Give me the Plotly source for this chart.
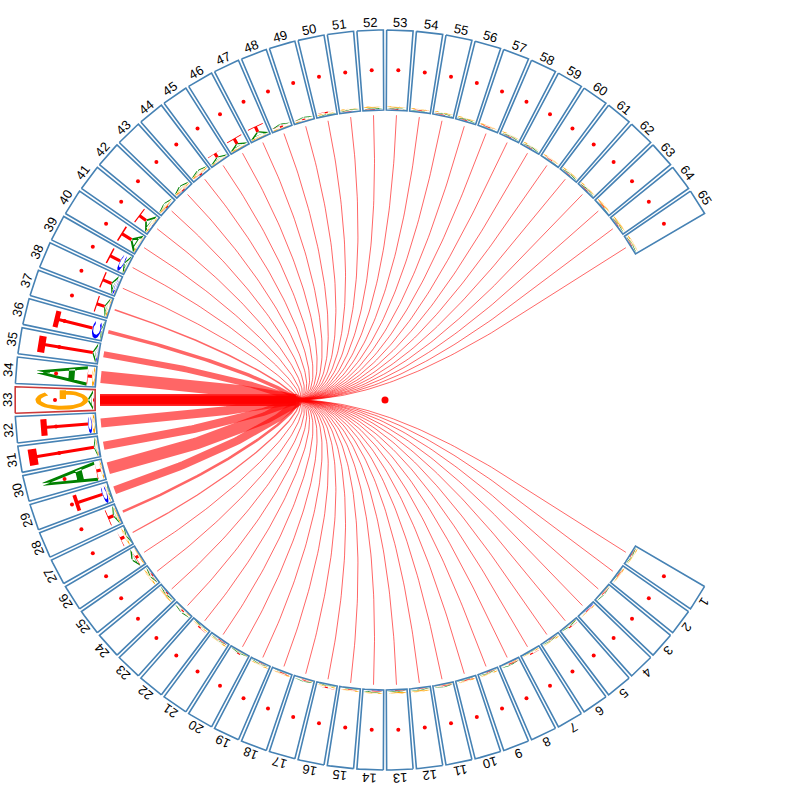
import numpy as np
import plotly.graph_objects as go

# ---------------- data ----------------
positions = list(range(1, 66))
position_labels = [str(p) for p in positions]
focus_position = 33

# information content (bits) of each nucleotide per position
A_bits = [0.03, 0.02, 0.03, 0.02, 0.03, 0.03, 0.02, 0.03, 0.03, 0.02,
          0.03, 0.03, 0.03, 0.03, 0.02, 0.03, 0.03, 0.02, 0.03, 0.03,
          0.03, 0.03, 0.04, 0.04, 0.05, 0.10, 0.05, 0.07, 0.04, 1.37,
          0.06, 0.02, 0.12, 1.25, 0.10, 0.04, 0.08, 0.10, 0.08, 0.20,
          0.15, 0.06, 0.07, 0.06, 0.08, 0.10, 0.12, 0.05, 0.04, 0.03,
          0.03, 0.03, 0.03, 0.02, 0.03, 0.03, 0.02, 0.03, 0.03, 0.02,
          0.03, 0.03, 0.02, 0.03, 0.03]
C_bits = [0.01, 0.01, 0.01, 0.02, 0.01, 0.01, 0.01, 0.02, 0.01, 0.01,
          0.01, 0.01, 0.01, 0.02, 0.01, 0.01, 0.01, 0.01, 0.01, 0.01,
          0.02, 0.01, 0.01, 0.01, 0.01, 0.01, 0.01, 0.02, 0.12, 0.02,
          0.03, 0.10, 0.02, 0.02, 0.03, 0.22, 0.01, 0.05, 0.12, 0.02,
          0.02, 0.01, 0.01, 0.01, 0.01, 0.01, 0.01, 0.01, 0.01, 0.01,
          0.01, 0.01, 0.01, 0.01, 0.01, 0.01, 0.01, 0.01, 0.01, 0.01,
          0.01, 0.01, 0.01, 0.01, 0.01]
G_bits = [0.03, 0.03, 0.02, 0.03, 0.02, 0.03, 0.03, 0.02, 0.03, 0.03,
          0.02, 0.04, 0.04, 0.03, 0.03, 0.03, 0.02, 0.03, 0.03, 0.02,
          0.03, 0.03, 0.03, 0.04, 0.05, 0.04, 0.05, 0.04, 0.04, 0.05,
          0.03, 0.08, 1.32, 0.08, 0.02, 0.02, 0.05, 0.03, 0.03, 0.03,
          0.05, 0.04, 0.05, 0.05, 0.04, 0.04, 0.04, 0.03, 0.03, 0.03,
          0.03, 0.04, 0.04, 0.03, 0.03, 0.03, 0.03, 0.03, 0.03, 0.03,
          0.03, 0.03, 0.04, 0.04, 0.04]
T_bits = [0.02, 0.02, 0.02, 0.02, 0.03, 0.02, 0.03, 0.02, 0.02, 0.02,
          0.02, 0.02, 0.02, 0.02, 0.02, 0.03, 0.02, 0.02, 0.02, 0.03,
          0.02, 0.03, 0.03, 0.03, 0.03, 0.08, 0.12, 0.15, 0.72, 0.12,
          1.65, 1.18, 0.03, 0.12, 1.38, 0.98, 0.22, 0.25, 0.30, 0.30,
          0.22, 0.03, 0.03, 0.04, 0.12, 0.15, 0.15, 0.04, 0.03, 0.03,
          0.02, 0.02, 0.02, 0.02, 0.02, 0.02, 0.02, 0.02, 0.02, 0.02,
          0.02, 0.02, 0.02, 0.02, 0.02]

# strength of the link between each position and the focus position (line width, px)
link_widths = [1, 1, 1, 1, 1, 1, 1, 1, 1, 1,
               1, 1, 1, 1, 1, 1, 1, 1, 1, 1,
               1, 1, 1, 1, 1, 1, 1.2, 2.5, 8, 12,
               8, 9, 0, 12, 6, 3.5, 1.5, 1, 1, 1,
               1, 1, 1, 1, 1, 1, 1, 1, 1, 1,
               1, 1, 1, 1, 1, 1, 1, 1, 1, 1,
               1, 1, 1, 1, 1]

# ---------------- geometry / style ----------------
N_SLOTS = 78
STEP = 360.0 / N_SLOTS
R_IN, R_OUT = 290, 370
R_DOT = 330
R_LABEL = 378
R_LINK = 285
HUB_R = 90
PX_PER_BIT = 40
HALF_W = 2.05
LETTER_W = 19.5
BOX_COLOR = "#4682b4"
FOCUS_COLOR = "#cd3a3a"
BASE_COLORS = {"A": "#008000", "C": "#0000ff", "G": "#ffa500", "T": "#ff0000"}


def theta_deg(p):
    return 180.0 - (p - focus_position) * STEP


def arc_ring(a0, a1, tu, tv, n=40):
    a = np.deg2rad(np.linspace(a0, a1, n))
    outer = list(zip(0.5 + 0.5 * np.cos(a), 0.5 + 0.5 * np.sin(a)))
    inner = list(zip(0.5 + (0.5 - tu) * np.cos(a), 0.5 + (0.5 - tv) * np.sin(a)))
    return outer + inner[::-1]


GLYPHS = {
    "T": [[(0.08, 1), (0.92, 1), (0.92, 0.87), (0.58, 0.87), (0.58, 0),
           (0.42, 0), (0.42, 0.87), (0.08, 0.87)]],
    "A": [[(0, 0), (0.16, 0), (0.56, 1), (0.42, 1)],
          [(1, 0), (0.84, 0), (0.44, 1), (0.58, 1)],
          [(0.2, 0.25), (0.8, 0.25), (0.75, 0.37), (0.25, 0.37)]],
    "C": [arc_ring(40, 320, 0.2, 0.1)],
    "G": [arc_ring(40, 360, 0.2, 0.1),
          [(0.55, 0.42), (1, 0.42), (1, 0.54), (0.55, 0.54)]],
}

fig = go.Figure()

# ---------------- links ----------------
th_f = np.deg2rad(theta_deg(focus_position))
dir_f = np.array([np.cos(th_f), np.sin(th_f)])
H = HUB_R * dir_f
P_f = R_LINK * dir_f
for p, w in zip(positions, link_widths):
    if w <= 0 or p == focus_position:
        continue
    th = np.deg2rad(theta_deg(p))
    P = R_LINK * np.array([np.cos(th), np.sin(th)])
    d = abs(p - focus_position) / 32.0
    C1 = 0.5 * P
    C2 = (HUB_R - 110 * d) * dir_f
    t = np.linspace(0, 1, 80)[:, None]
    B = ((1 - t) ** 3 * P + 3 * (1 - t) ** 2 * t * C1
         + 3 * (1 - t) * t ** 2 * C2 + t ** 3 * H)
    xs = list(B[:, 0]) + [P_f[0]]
    ys = list(B[:, 1]) + [P_f[1]]
    fig.add_trace(go.Scatter(x=xs, y=ys, mode="lines",
                             line=dict(color="rgba(255,0,0,0.6)", width=w),
                             hoverinfo="skip"))

# ---------------- sequence logo letters ----------------
bits = {"A": A_bits, "C": C_bits, "G": G_bits, "T": T_bits}
poly = {b: ([], []) for b in "ACGT"}
for i, p in enumerate(positions):
    th = np.deg2rad(theta_deg(p))
    c, s = np.cos(th), np.sin(th)
    stack = sorted(((bits[b][i], b) for b in "ACGT"))
    base = R_IN
    for hbits, b in stack:
        h = hbits * PX_PER_BIT
        for g in GLYPHS[b]:
            for (u, v) in g:
                r = base + v * h
                tc = (u - 0.5) * LETTER_W
                poly[b][0].append(r * c + tc * s)
                poly[b][1].append(r * s - tc * c)
            poly[b][0].append(None)
            poly[b][1].append(None)
        base += h
for b in "ACGT":
    fig.add_trace(go.Scatter(x=poly[b][0], y=poly[b][1], mode="lines",
                             fill="toself", fillcolor=BASE_COLORS[b],
                             line=dict(width=0, color=BASE_COLORS[b]),
                             hoverinfo="skip"))

# ---------------- boxes ----------------
def box_xy(p):
    t0 = theta_deg(p)
    a = np.deg2rad(np.linspace(t0 + HALF_W, t0 - HALF_W, 12))
    xs = list(R_OUT * np.cos(a)) + list(R_IN * np.cos(a[::-1]))
    ys = list(R_OUT * np.sin(a)) + list(R_IN * np.sin(a[::-1]))
    return xs + [xs[0], None], ys + [ys[0], None]

bx, by = [], []
for p in positions:
    if p == focus_position:
        continue
    xs, ys = box_xy(p)
    bx += xs
    by += ys
fig.add_trace(go.Scatter(x=bx, y=by, mode="lines",
                         line=dict(color=BOX_COLOR, width=1.6), hoverinfo="skip"))
fx, fy = box_xy(focus_position)
fig.add_trace(go.Scatter(x=fx, y=fy, mode="lines",
                         line=dict(color=FOCUS_COLOR, width=1.6), hoverinfo="skip"))

# ---------------- dots ----------------
ths = np.deg2rad([theta_deg(p) for p in positions])
fig.add_trace(go.Scatter(x=R_DOT * np.cos(ths), y=R_DOT * np.sin(ths), mode="markers",
                         marker=dict(color="red", size=4), hoverinfo="skip"))
fig.add_trace(go.Scatter(x=[0], y=[0], mode="markers",
                         marker=dict(color="red", size=7), hoverinfo="skip"))

# ---------------- labels ----------------
for p, lab in zip(positions, position_labels):
    td = theta_deg(p)
    th = np.deg2rad(td)
    fig.add_annotation(x=R_LABEL * np.cos(th), y=R_LABEL * np.sin(th), text=lab,
                       showarrow=False, textangle=90 - td,
                       xanchor="center", yanchor="middle",
                       font=dict(family="Liberation Sans, Arial, sans-serif",
                                 size=13, color="black"))

fig.update_layout(width=800, height=800, margin=dict(l=0, r=0, t=0, b=0),
                  paper_bgcolor="white", plot_bgcolor="white", showlegend=False,
                  xaxis=dict(range=[-385, 415], visible=False, fixedrange=True),
                  yaxis=dict(range=[-400, 400], visible=False, fixedrange=True))

fig.write_html("out.html")
